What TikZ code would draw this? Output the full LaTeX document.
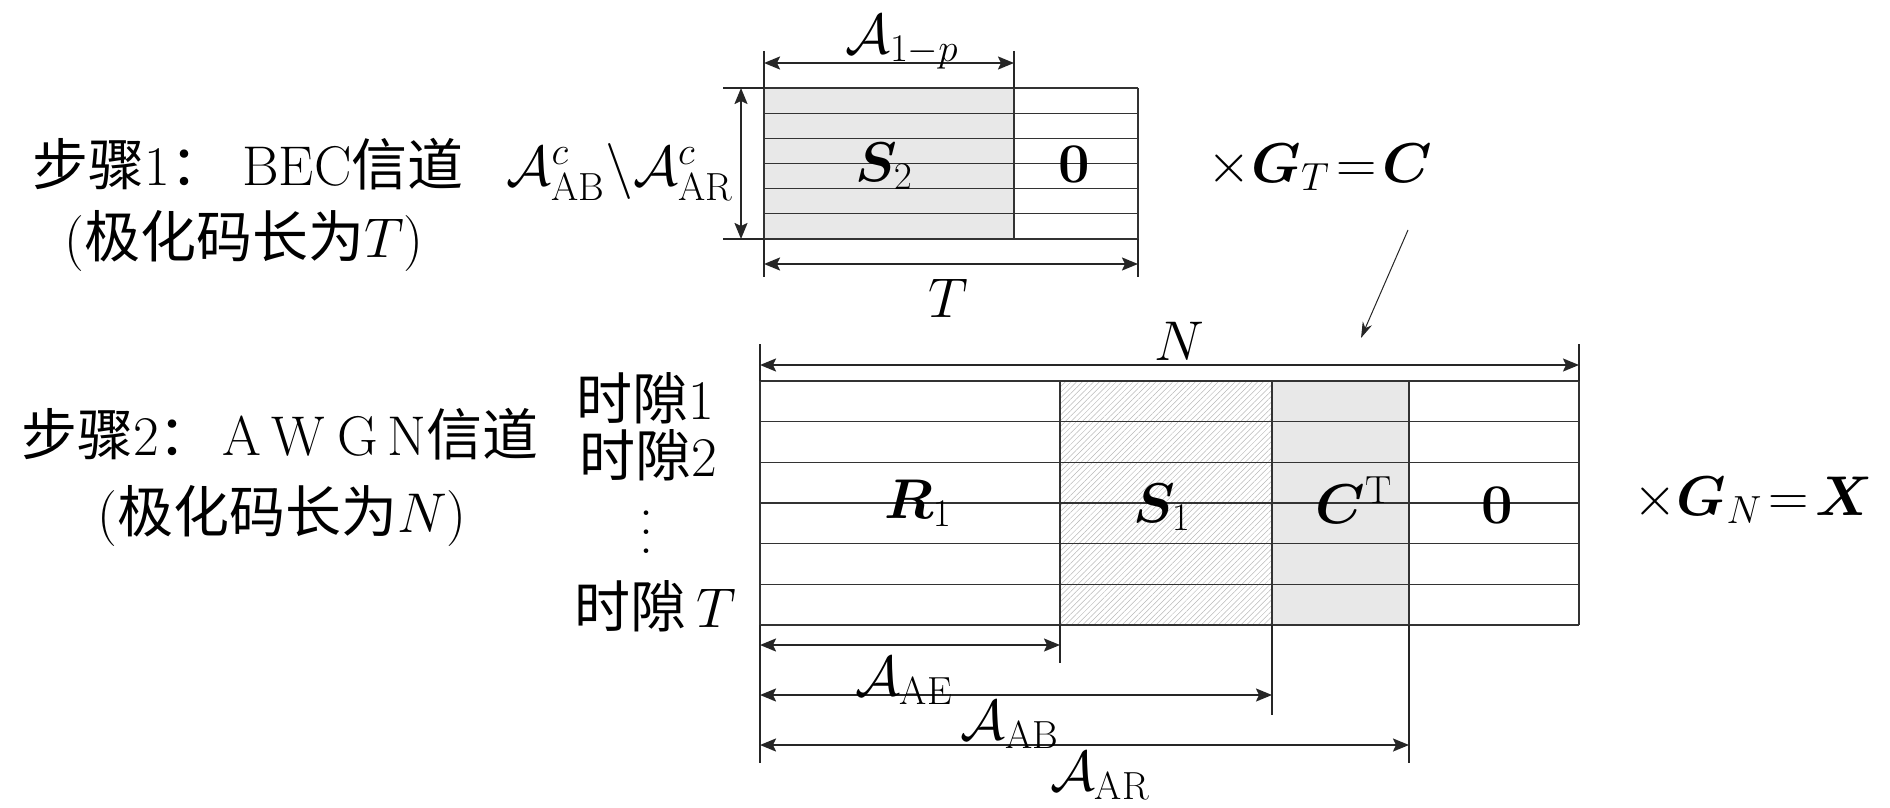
\RequirePackage{fix-cm}
\documentclass[tikz,border=0pt]{standalone}
\usepackage{fontspec}
\usepackage{amsmath}
\usepackage{bm}
\newfontfamily\cjk{Noto Sans CJK SC}
\usetikzlibrary{arrows.meta,patterns.meta}
\newcommand{\bigvdots}{\vbox{\baselineskip=9.4pt\lineskiplimit=0pt\hbox{.}\hbox{.}\hbox{.}}}
\begin{document}
\begin{tikzpicture}[x=0.5pt,y=-0.5pt,
  every node/.style={font=\fontsize{28}{34}\selectfont, inner sep=0pt},
  tbl/.style={draw=black!80, line width=0.6pt},
  tip/.tip={Stealth[length=8pt,width=6.5pt,inset=1.5pt]},
  dim/.style={draw=black!85, line width=1pt, tip-tip},
  ext/.style={draw=black!85, line width=0.7pt},
  lightfill/.style={fill=black!9},
  hatch/.style={pattern={Lines[angle=45,distance=2pt,line width=0.25pt]}, pattern color=black!28},
  slot/.style={anchor=west},
  pointer/.style={draw=black!85, line width=0.5pt, -{Stealth[length=8pt,width=5pt]}}]
\useasboundingbox (0,0) rectangle (1890,808);

% ---------- top table (step 1) ----------
\coordinate (t00) at (764,88);
\coordinate (tmid) at (1014,88);
\coordinate (tR) at (1138,88);
\coordinate (t11) at (1138,239);
\fill[lightfill] (764,88) rectangle (1014,239);
\foreach \k in {0,...,6} \draw[tbl] (764,{88+\k*25.1667}) -- (1138,{88+\k*25.1667});
\draw[tbl] (764,88) -- (764,239) (1014,88) -- (1014,239) (1138,88) -- (1138,239);

% dimension A_{1-p}
\coordinate (ap1) at (764,51); \coordinate (ap2) at (1014,51);
\coordinate (apa) at (764,63); \coordinate (apb) at (1014,63);
\draw[ext] (ap1) -- (t00) (ap2) -- (tmid);
\draw[dim] (apa) -- (apb);
% vertical dimension
\coordinate (vl1) at (723,88); \coordinate (vl2) at (723,239); \coordinate (vb) at (764,239);
\coordinate (va) at (741,88); \coordinate (vz) at (741,239);
\draw[ext] (vl1) -- (t00) (vl2) -- (vb);
\draw[dim] (va) -- (vz);
% dimension T
\coordinate (tt1) at (764,277); \coordinate (tt2) at (1138,277);
\coordinate (tta) at (764,264); \coordinate (ttb) at (1138,264);
\draw[ext] (vb) -- (tt1) (t11) -- (tt2);
\draw[dim] (tta) -- (ttb);

\node (a1p) at (902,42) {$\mathcal{A}_{1-p}$};
\node (aabar) at (620,172) {$\mathcal{A}^{c}_{\mathrm{AB}}\backslash\mathcal{A}^{c}_{\mathrm{AR}}$};
\node (tl) at (948,298) {$T$};
\node (s2) at (884,166) {$\bm{S}_2$};
\node (z1) at (1074,164) {$\bm{0}$};
\node (gt) at (1320,167) {$\times\bm{G}_T\!=\!\bm{C}$};

% ---------- bottom table (step 2) ----------
\fill[hatch] (1060,381) rectangle (1272,625);
\fill[lightfill] (1272,381) rectangle (1409,625);
\foreach \k in {0,...,6} \draw[tbl] (760,{381+\k*40.667}) -- (1579,{381+\k*40.667});
\foreach \xx in {760,1060,1272,1409,1579} \draw[tbl] (\xx,381) -- (\xx,625);

% dimension N
\coordinate (n1) at (760,344); \coordinate (n2) at (1579,344);
\coordinate (n1b) at (760,381); \coordinate (n2b) at (1579,381);
\coordinate (na) at (760,365); \coordinate (nb) at (1579,365);
\draw[ext] (n1) -- (n1b) (n2) -- (n2b);
\draw[dim] (na) -- (nb);
\node (nl) at (1179,341) {$N$};

% bottom dimensions
\coordinate (b0) at (760,625); \coordinate (b0e) at (760,763);
\coordinate (b1) at (1060,625); \coordinate (b1e) at (1060,663);
\coordinate (b2) at (1272,625); \coordinate (b2e) at (1272,715);
\coordinate (b3) at (1409,625); \coordinate (b3e) at (1409,763);
\draw[ext] (b0) -- (b0e) (b1) -- (b1e) (b2) -- (b2e) (b3) -- (b3e);
\coordinate (ae0) at (760,645); \coordinate (ae1) at (1060,645);
\coordinate (ab0) at (760,695); \coordinate (ab1) at (1272,695);
\coordinate (ar0) at (760,745); \coordinate (ar1) at (1409,745);
\draw[dim] (ae0) -- (ae1);
\draw[dim] (ab0) -- (ab1);
\draw[dim] (ar0) -- (ar1);
\node (aae) at (904,681) {$\mathcal{A}_{\mathrm{AE}}$};
\node (aabl) at (1010,725) {$\mathcal{A}_{\mathrm{AB}}$};
\node (aar) at (1100,776) {$\mathcal{A}_{\mathrm{AR}}$};

\node (r1) at (918,503) {$\bm{R}_1$};
\node (s1) at (1162,507) {$\bm{S}_1$};
\node (ct) at (1354,500) {$\bm{C}^{\mathrm{T}}$};
\node (z2) at (1497,505) {$\bm{0}$};
\node (gn) at (1753,500) {$\times\bm{G}_N\!=\!\bm{X}$};

% slot labels
\node[slot] (slot1) at (576,398) {{\cjk 时隙}1};
\node[slot] (slot2) at (579,455) {{\cjk 时隙}2};
\node (vd) at (646,532) {\bigvdots};
\node[slot] (slotT) at (574,606) {{\cjk 时隙}\hspace{5pt}$T$};

% step labels
\node (st1a) at (248,164) {{\cjk 步骤}1{\cjk ：}\hspace{8pt}BEC{\cjk 信道}};
\node (st1b) at (244,241) {({\cjk 极化码长为}$T$)};
\node (st2a) at (280,434) {{\cjk 步骤}2{\cjk ：}\hspace{4pt}A\kern5pt W\kern6pt G\kern5pt N{\cjk 信道}};
\node (st2b) at (282,516) {({\cjk 极化码长为}$N$)};

% pointer from C to C^T column
\coordinate (ps) at (1408,230);
\coordinate (pe) at (1361,338);
\draw[pointer] (ps) -- (pe);
\end{tikzpicture}
\end{document}
